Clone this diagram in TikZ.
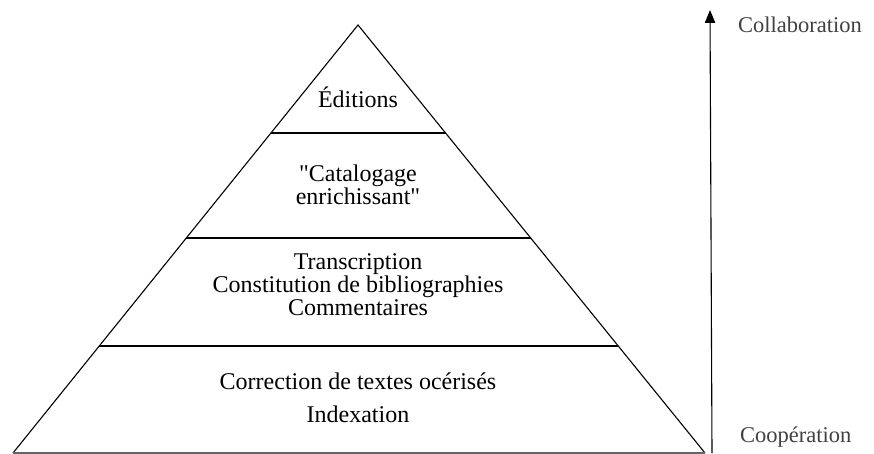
\documentclass[tikz,border=0pt]{standalone}
\usepackage{fontspec}
\setmainfont{Liberation Serif}[Ligatures=TeXOff]
\usetikzlibrary{arrows.meta,calc}
\tikzset{
  level/.style={font=\fontsize{24}{23}\selectfont,align=center,inner sep=0pt},
  side/.style={font=\fontsize{22.5}{24}\selectfont,text=black!75,anchor=west,inner sep=0pt},
  edge/.style={draw=black,line width=1.1pt},
  arr/.style={-{Triangle[length=4.5mm,width=3.6mm]},draw=black,line width=1.1pt}
}
\begin{document}
\begin{tikzpicture}[x=1pt,y=-1pt]
\path[use as bounding box] (0,0) rectangle (874,453);
% pyramid
\coordinate (apex) at (358,25);
\coordinate (baseL) at (13,453);
\coordinate (baseR) at (705,453);
\draw[edge,line join=miter] (baseL) -- (apex) -- (baseR);
\draw[edge,draw=black!60] (baseL) -- (baseR);
\foreach \y/\n in {133/one,238/two,346/three}{
  \coordinate (\n L) at ($(apex)!{(\y-25)/428}!(baseL)$);
  \coordinate (\n R) at ($(apex)!{(\y-25)/428}!(baseR)$);
  \draw[edge] (\n L) -- (\n R);
}
% labels
\node[level] (edit) at (358,97) {Éditions};
\node[level] (catal) at (358,185) {"Catalogage\\enrichissant"};
\node[level] (trans) at (358,285) {Transcription\\Constitution de bibliographies\\Commentaires};
\node[level,font=\fontsize{24}{33}\selectfont] (corr) at (358,398) {Correction de textes océrisés\\Indexation};
% axis
\coordinate (coop) at (712,453);
\coordinate (collab) at (710,10);
\draw[arr] (coop) -- (collab);
\node[side] (collabtxt) at (738,25) {Collaboration};
\node[side] (cooptxt) at (740,437) {Coopération};
\end{tikzpicture}
\end{document}
